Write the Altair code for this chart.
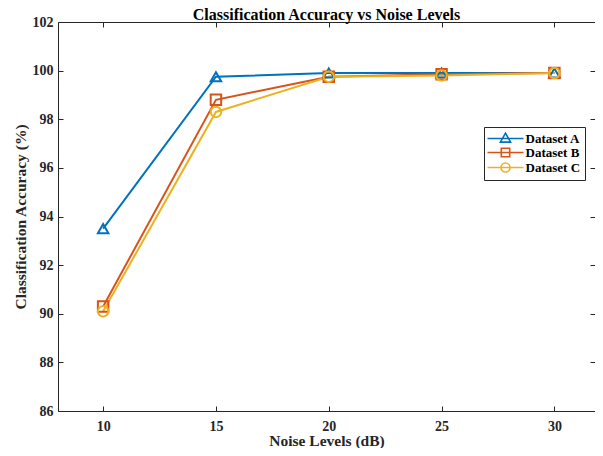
import altair as alt
import pandas as pd

# ---- data ----
noise_levels = [10, 15, 20, 25, 30]
acc_a = [93.5, 99.75, 99.9, 99.9, 99.9]
acc_b = [90.3, 98.8, 99.75, 99.85, 99.9]
acc_c = [90.1, 98.3, 99.75, 99.8, 99.9]
series_names = ["Dataset A", "Dataset B", "Dataset C"]
x_ticks = [10, 15, 20, 25, 30]
y_ticks = [86, 88, 90, 92, 94, 96, 98, 100, 102]

rows = []
for name, vals in zip(series_names, [acc_a, acc_b, acc_c]):
    for n, v in zip(noise_levels, vals):
        rows.append({"noise": n, "acc": v, "series": name})
df = pd.DataFrame(rows)

# ---- styling ----
colors = ["#0072BD", "#D95319", "#EDB120"]
markers = ["triangle-up", "square", "circle"]
legend_paths = [
    "M-3,0H3M0,-0.9L0.85,0.6H-0.85Z",
    "M-3,0H3M-0.7,-0.7H0.7V0.7H-0.7Z",
    "M-3,0H3M-0.75,0A0.75,0.75,0,1,1,0.75,0A0.75,0.75,0,1,1,-0.75,0Z",
]
FONT = "Liberation Serif"
TXT = "#262626"
W, H = 537, 389

x_scale = alt.Scale(domain=[8, 31.8], nice=False, zero=False)
y_scale = alt.Scale(domain=[86, 102], nice=False, zero=False)
color_scale = alt.Scale(domain=series_names, range=colors)

lab = dict(labelFont=FONT, labelFontSize=14, labelFontWeight="bold", labelColor=TXT,
           titleFont=FONT, titleFontSize=15.5, titleFontWeight="bold", titleColor=TXT,
           grid=False)

x_main = alt.Axis(title="Noise Levels (dB)", values=x_ticks, ticks=False, domain=False,
                  labelPadding=8, titleY=34, titleBaseline="alphabetic", format="d", **lab)
y_main = alt.Axis(title="Classification Accuracy (%)", values=y_ticks, ticks=False, domain=False,
                  labelPadding=5, titleX=-38, titleBaseline="middle", format="d", **lab)

tick_style = dict(labels=False, domain=False, tickSize=5, tickColor=TXT, tickWidth=1,
                  grid=False, title=None)
x_tick_bottom = alt.Axis(orient="top", offset=-H, values=x_ticks, **tick_style)
x_tick_top = alt.Axis(orient="bottom", offset=-H, values=x_ticks, **tick_style)
y_tick_left = alt.Axis(orient="right", offset=-W, values=y_ticks, **tick_style)
y_tick_right = alt.Axis(orient="left", offset=-W, values=y_ticks, **tick_style)

legend = alt.Legend(
    title=None, orient="none", legendX=426, legendY=105,
    strokeColor="#262626", fillColor="white", padding=4.5,
    labelFont=FONT, labelFontSize=13, labelFontWeight="bold", labelColor="black",
    symbolSize=144, symbolStrokeWidth=1.6, symbolOpacity=1, symbolOffset=10,
    labelOffset=13, rowPadding=-1,
)

base = alt.Chart(df)

lines = base.mark_line(strokeWidth=2).encode(
    x=alt.X("noise:Q", scale=x_scale, axis=x_main),
    y=alt.Y("acc:Q", scale=y_scale, axis=y_main),
    color=alt.Color("series:N", scale=color_scale, legend=legend),
    detail="series:N",
)

point_layers = []
axes_pairs = [(x_tick_bottom, y_tick_left), (x_tick_top, y_tick_right), (None, None)]
for name, shape, (xa, ya) in zip(series_names, markers, axes_pairs):
    layer = base.mark_point(shape=shape, filled=False, size=110, strokeWidth=2, opacity=1).encode(
        x=alt.X("noise:Q", scale=x_scale, axis=xa),
        y=alt.Y("acc:Q", scale=y_scale, axis=ya),
        color=alt.Color("series:N", scale=color_scale, legend=legend),
    ).transform_filter(alt.datum.series == name)
    point_layers.append(layer)

dummy = base.mark_point(size=0, filled=False).encode(
    x=alt.X("noise:Q", scale=x_scale, axis=None),
    y=alt.Y("acc:Q", scale=y_scale, axis=None),
    color=alt.Color("series:N", scale=color_scale, legend=legend),
    shape=alt.Shape("series:N", scale=alt.Scale(domain=series_names, range=legend_paths), legend=legend),
)

chart = alt.layer(lines, *point_layers, dummy).resolve_axis(
    x="independent", y="independent"
).properties(
    width=W, height=H,
    title=alt.TitleParams("Classification Accuracy vs Noise Levels", font=FONT, fontSize=16,
                          fontWeight="bold", color="black", offset=4, dy=12),
    autosize=alt.AutoSizeParams(type="none"),
    padding={"left": 50, "top": 14, "right": 0, "bottom": 37},
).configure_view(stroke="#262626", strokeWidth=1)

chart.save("out.html", embed_options={"renderer": "svg", "actions": False})
